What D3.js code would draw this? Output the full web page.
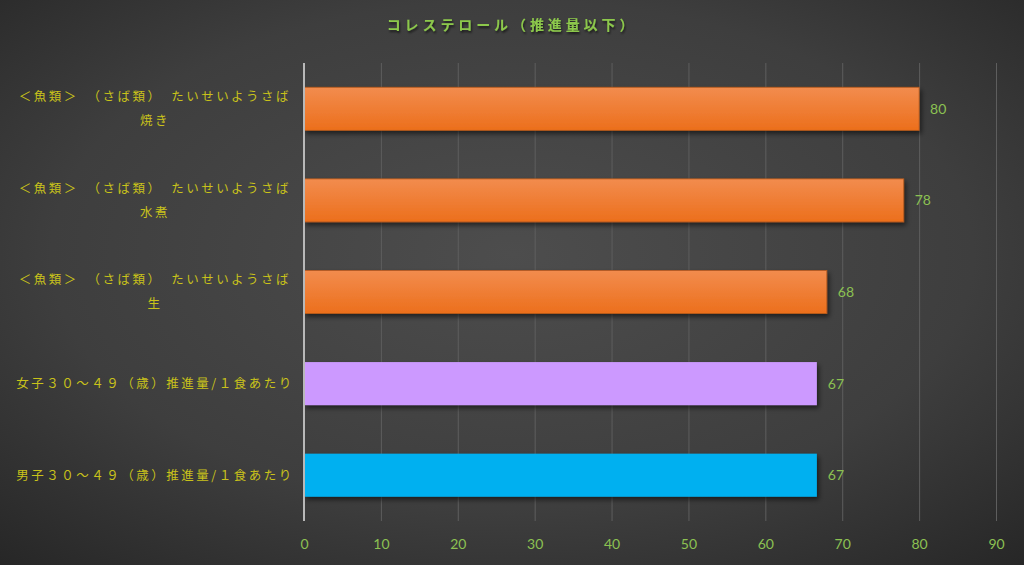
<!DOCTYPE html>
<html><head><meta charset="utf-8">
<script src="https://cdn.jsdelivr.net/npm/d3@7"></script>
<style>html,body{margin:0;padding:0;background:#333;}svg{display:block;}</style>
</head><body>
<svg id="c" width="1024" height="565"></svg>
<script>
const title = "コレステロール（推進量以下）";
const categories = [
  "＜魚類＞　（さば類）　たいせいようさば\n焼き",
  "＜魚類＞　（さば類）　たいせいようさば\n水煮",
  "＜魚類＞　（さば類）　たいせいようさば\n生",
  "女子３０～４９（歳）推進量/１食あたり",
  "男子３０～４９（歳）推進量/１食あたり"
];
const values = [80, 78, 68, 66.7, 66.7];
const barColors = ["orange", "orange", "orange", "purple", "blue"];
const ticks = [0, 10, 20, 30, 40, 50, 60, 70, 80, 90];

(function(){
const svg = d3.select("#c");
const W = 1024, H = 565;
const defs = svg.append("defs");
const bg = defs.append("radialGradient").attr("id","bg").attr("cx","50%").attr("cy","45%").attr("r","75%");
bg.append("stop").attr("offset","0%").attr("stop-color","#4d4d4d");
bg.append("stop").attr("offset","60%").attr("stop-color","#3e3e3e");
bg.append("stop").attr("offset","100%").attr("stop-color","#262626");
const grads = {
  orange: ["#f28c4e", "#ec6f1c"],
  purple: ["#cc99ff", "#cc99ff"],
  blue: ["#00b0f0", "#00b0f0"]
};
Object.entries(grads).forEach(([k,[a,b]])=>{
  const g = defs.append("linearGradient").attr("id","g-"+k).attr("x1","0").attr("y1","0").attr("x2","0").attr("y2","1");
  g.append("stop").attr("offset","0%").attr("stop-color",a);
  g.append("stop").attr("offset","100%").attr("stop-color",b);
});
const sh = defs.append("filter").attr("id","sh").attr("x","-10%").attr("y","-30%").attr("width","130%").attr("height","180%");
sh.append("feDropShadow").attr("dx",2).attr("dy",3).attr("stdDeviation",2.5).attr("flood-color","#000").attr("flood-opacity",0.55);
const tsh = defs.append("filter").attr("id","tsh");
tsh.append("feDropShadow").attr("dx",1).attr("dy",2).attr("stdDeviation",1.2).attr("flood-color","#000").attr("flood-opacity",0.6);

svg.append("rect").attr("width",W).attr("height",H).attr("fill","url(#bg)");

const pL = 304, pR = 996, pT = 63, pB = 521;
const x = d3.scaleLinear().domain([0, 90]).range([pL, pR]);
const y = d3.scaleBand().domain(d3.range(categories.length)).range([pT, pB]).paddingInner(0.53).paddingOuter(0.265);

const grid = svg.append("g").attr("transform",`translate(0,${pB})`)
  .call(d3.axisBottom(x).tickValues(ticks).tickSize(-(pB-pT)).tickFormat(""));
grid.select(".domain").remove();
grid.selectAll(".tick line").attr("stroke","#5e5e5e").attr("stroke-width",1);

svg.append("g").selectAll("rect").data(values).join("rect")
  .attr("x", x(0)).attr("y",(d,i)=>y(i)).attr("width",d=>x(d)-x(0)).attr("height",y.bandwidth())
  .attr("fill",(d,i)=>`url(#g-${barColors[i]})`)
  .attr("stroke",(d,i)=>barColors[i]==="orange"?"#b85a1c":"none").attr("stroke-width",0.8)
  .attr("filter","url(#sh)");

svg.append("line").attr("x1",x(0)).attr("x2",x(0)).attr("y1",pT).attr("y2",pB)
  .attr("stroke","#b8b8b8").attr("stroke-width",2);

svg.append("g").selectAll("text").data(values).join("text")
  .attr("x",d=>x(d)+11).attr("y",(d,i)=>y(i)+y.bandwidth()/2).attr("dy","0.35em")
  .attr("fill","#8cc152").attr("font-family","Lato, 'Noto Sans', sans-serif").attr("font-size",14)
  .text(d=>d3.format(".0f")(d));

const xa = svg.append("g").attr("transform",`translate(0,${pB})`)
  .call(d3.axisBottom(x).tickValues(ticks).tickSize(0).tickPadding(18));
xa.select(".domain").remove();
xa.selectAll("text").attr("fill","#8cc152").attr("font-family","Lato, 'Noto Sans', sans-serif").attr("font-size",14);

const lab = svg.append("g");
categories.forEach((c,i)=>{
  const lines = c.split("\n");
  const cy = y(i) + y.bandwidth()/2;
  const lh = 24;
  const y0 = cy - (lines.length-1)*lh/2;
  const t = lab.append("text").attr("fill","#c9c21a").attr("font-family","'Noto Sans CJK JP', sans-serif")
    .attr("font-size",12.5).attr("letter-spacing",2.5);
  lines.forEach((ln,j)=>{
    t.append("tspan").attr("x",155).attr("y",y0 + j*lh).attr("dy","0.35em").attr("text-anchor","middle").text(ln);
  });
});

svg.append("text").attr("x",512).attr("y",30).attr("text-anchor","middle")
  .attr("fill","#8cc84b").attr("font-family","'Noto Sans CJK JP', sans-serif").attr("font-weight","bold")
  .attr("font-size",14).attr("letter-spacing",3.9).attr("filter","url(#tsh)").text(title);
})();
</script>
</body></html>
